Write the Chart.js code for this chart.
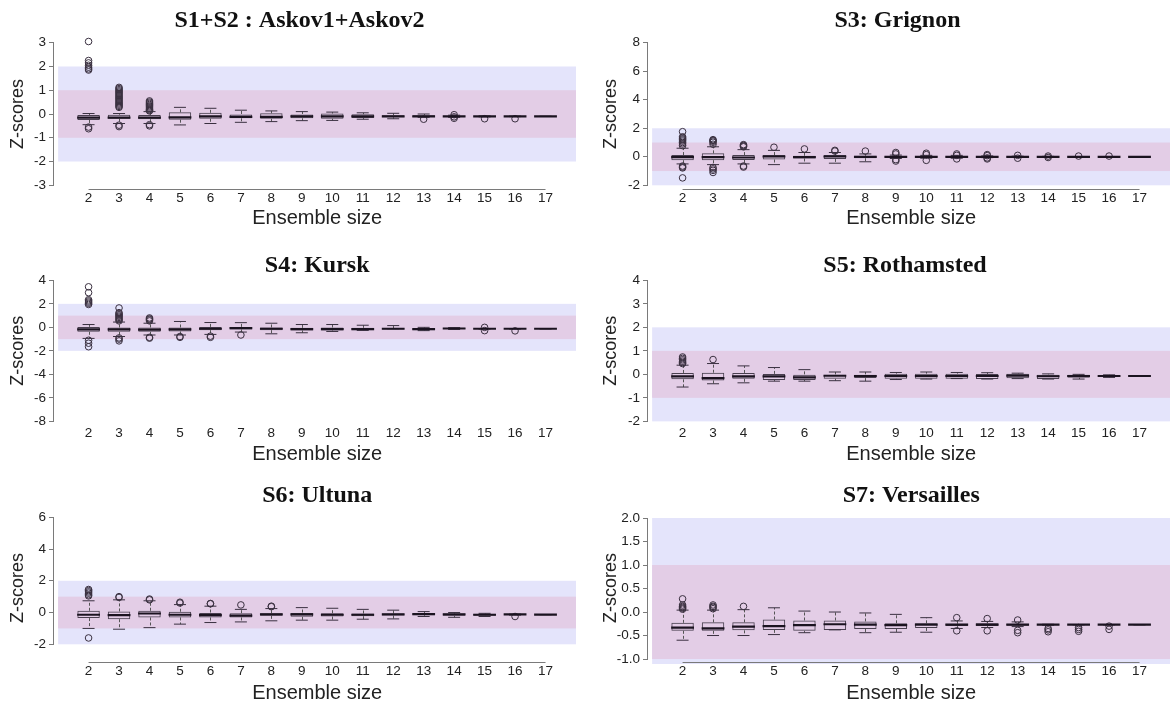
<!DOCTYPE html>
<html>
<head>
<meta charset="utf-8">
<title>z-scores by ensemble size</title>
<script src="https://cdn.jsdelivr.net/npm/chart.js@4.4.1/dist/chart.umd.min.js"></script>
<style>
  html, body { margin: 0; padding: 0; background: #fff; }
  body { position: relative; width: 1175px; height: 705px; overflow: hidden; }
  canvas { position: absolute; }
</style>
</head>
<body>
<script>
// ensemble sizes (x categories)
const sizes = [2, 3, 4, 5, 6, 7, 8, 9, 10, 11, 12, 13, 14, 15, 16, 17];

// reference bands (z-score limits)
const outerBand = [-2, 2];
const innerBand = [-1, 1];

// S1+S2 : Askov1+Askov2
const askovTicks = [-3, -2, -1, 0, 1, 2, 3];
const askovQ3 = [-0.04, -0.03, -0.04, 0.07, 0.05, 0.00, 0.03, 0.00, 0.02, -0.01, -0.05, -0.05, -0.07, -0.09, -0.09, -0.10];
const askovMed = [-0.15, -0.15, -0.15, -0.14, -0.10, -0.12, -0.12, -0.10, -0.10, -0.10, -0.10, -0.10, -0.10, -0.10, -0.10, -0.10];
const askovQ1 = [-0.25, -0.20, -0.22, -0.24, -0.20, -0.18, -0.20, -0.18, -0.20, -0.17, -0.14, -0.13, -0.12, -0.11, -0.11, -0.10];
const askovHigh = [0.02, 0.02, 0.10, 0.28, 0.24, 0.16, 0.13, 0.10, 0.08, 0.05, 0.03, 0.00, -0.05, -0.08, -0.09, -0.10];
const askovLow = [-0.45, -0.40, -0.40, -0.46, -0.40, -0.35, -0.32, -0.28, -0.27, -0.22, -0.20, -0.14, -0.14, -0.12, -0.11, -0.10];
const askovOut = [
  [3.05, 2.25, 2.15, 2.05, 1.97, 1.9, 1.85, -0.55, -0.62],
  [1.12, 1.07, 1.02, 0.97, 0.92, 0.87, 0.82, 0.77, 0.72, 0.67, 0.62, 0.57, 0.52, 0.47, 0.42, 0.37, 0.32, 0.28, -0.47, -0.53],
  [0.55, 0.5, 0.45, 0.4, 0.35, 0.3, 0.25, 0.2, 0.16, 0.13, -0.45, -0.5],
  [], [], [], [], [], [], [], [],
  [-0.22], [-0.03, -0.12, -0.18], [-0.2], [-0.2], []
];

// S3: Grignon
const grignonTicks = [-2, 0, 2, 4, 6, 8];
const grignonQ3 = [0.12, 0.24, 0.12, 0.12, 0.07, 0.12, 0.07, 0.06, 0.05, 0.05, 0.03, 0.02, 0.02, 0.01, 0.01, 0.0];
const grignonMed = [-0.02, -0.02, -0.05, 0.02, -0.02, 0.02, 0.0, 0.0, 0.0, 0.0, 0.0, 0.0, 0.0, 0.0, 0.0, 0.0];
const grignonQ1 = [-0.24, -0.24, -0.22, -0.19, -0.12, -0.15, -0.10, -0.06, -0.05, -0.05, -0.03, -0.02, -0.02, -0.01, -0.01, 0.0];
const grignonHigh = [0.6, 0.7, 0.5, 0.45, 0.3, 0.3, 0.2, 0.12, 0.1, 0.1, 0.06, 0.04, 0.03, 0.02, 0.02, 0.0];
const grignonLow = [-0.5, -0.55, -0.5, -0.55, -0.45, -0.45, -0.35, -0.12, -0.1, -0.1, -0.06, -0.04, -0.03, -0.02, -0.02, 0.0];
const grignonOut = [
  [1.76, 1.4, 1.32, 1.25, 1.18, 1.1, 1.0, 0.9, 0.78, -0.65, -0.72, -0.78, -1.48],
  [1.2, 1.15, 1.1, 1.02, 0.88, -0.75, -0.85, -0.95, -1.1],
  [0.85, 0.8, 0.75, 0.7, -0.65, -0.72],
  [0.67], [0.55], [0.45, 0.4], [0.4],
  [0.3, 0.2, -0.2, -0.3], [0.25, 0.15, -0.25], [0.2, 0.1, -0.15], [0.15, 0.08, -0.08, -0.15],
  [0.1, -0.1], [0.05, -0.05], [0.05], [0.05], []
];

// S4: Kursk
const kurskTicks = [-8, -6, -4, -2, 0, 2, 4];
const kurskQ3 = [0.04, -0.01, -0.01, -0.01, 0.04, 0.04, -0.01, -0.04, -0.01, -0.04, -0.07, -0.07, -0.04, -0.10, -0.10, -0.12];
const kurskMed = [-0.18, -0.18, -0.20, -0.18, -0.12, -0.07, -0.12, -0.15, -0.15, -0.15, -0.12, -0.15, -0.10, -0.12, -0.12, -0.12];
const kurskQ1 = [-0.38, -0.38, -0.38, -0.35, -0.24, -0.18, -0.24, -0.27, -0.27, -0.24, -0.18, -0.24, -0.15, -0.14, -0.14, -0.12];
const kurskHigh = [0.24, 0.45, 0.35, 0.5, 0.41, 0.4, 0.35, 0.24, 0.24, 0.18, 0.15, 0.0, -0.02, -0.10, -0.10, -0.12];
const kurskLow = [-0.94, -0.78, -0.65, -0.65, -0.6, -0.4, -0.55, -0.46, -0.35, -0.26, -0.12, -0.28, -0.18, -0.14, -0.14, -0.12];
const kurskOut = [
  [3.45, 2.95, 2.35, 2.25, 2.15, 2.05, 1.95, -1.1, -1.35, -1.65],
  [1.65, 1.25, 1.15, 1.05, 0.95, 0.85, 0.75, 0.65, 0.55, -0.9, -1.0, -1.15],
  [0.8, 0.72, 0.65, 0.55, -0.85, -0.92],
  [-0.78, -0.85], [-0.75, -0.85], [-0.65],
  [], [], [], [], [], [], [],
  [0.0, -0.28], [-0.3], []
];

// S5: Rothamsted
const rothTicks = [-2, -1, 0, 1, 2, 3, 4];
const rothQ3 = [0.06, 0.07, 0.06, 0.02, 0.0, 0.0, 0.0, 0.03, 0.03, 0.03, 0.01, 0.03, 0.0, -0.02, -0.04, -0.07];
const rothMed = [-0.09, -0.16, -0.09, -0.09, -0.13, -0.06, -0.07, -0.07, -0.07, -0.07, -0.07, -0.05, -0.08, -0.07, -0.07, -0.07];
const rothQ1 = [-0.21, -0.26, -0.19, -0.24, -0.24, -0.19, -0.16, -0.19, -0.19, -0.19, -0.20, -0.17, -0.20, -0.14, -0.10, -0.07];
const rothHigh = [0.39, 0.46, 0.36, 0.29, 0.2, 0.1, 0.1, 0.08, 0.1, 0.08, 0.07, 0.05, 0.02, 0.0, -0.02, -0.07];
const rothLow = [-0.54, -0.4, -0.36, -0.29, -0.29, -0.27, -0.29, -0.22, -0.2, -0.18, -0.2, -0.18, -0.2, -0.2, -0.13, -0.07];
const rothOut = [
  [0.74, 0.68, 0.62, 0.56, 0.5, 0.46],
  [0.63],
  [], [], [], [], [], [], [], [], [], [], [], [], [], []
];

// S6: Ultuna
const ultunaTicks = [-2, 0, 2, 4, 6];
const ultunaQ3 = [0.11, 0.07, 0.11, 0.05, 0.0, -0.04, -0.04, 0.0, -0.04, -0.06, -0.06, -0.06, -0.06, -0.08, -0.10, -0.13];
const ultunaMed = [-0.14, -0.16, -0.06, -0.14, -0.16, -0.19, -0.12, -0.12, -0.14, -0.14, -0.12, -0.10, -0.12, -0.14, -0.12, -0.13];
const ultunaQ1 = [-0.35, -0.42, -0.31, -0.31, -0.31, -0.31, -0.21, -0.27, -0.25, -0.23, -0.19, -0.17, -0.21, -0.21, -0.14, -0.13];
const ultunaHigh = [0.74, 0.8, 0.74, 0.5, 0.4, 0.2, 0.25, 0.31, 0.27, 0.2, 0.15, 0.06, 0.0, -0.05, -0.10, -0.13];
const ultunaLow = [-1.0, -1.05, -0.95, -0.73, -0.63, -0.59, -0.52, -0.48, -0.48, -0.42, -0.4, -0.25, -0.3, -0.25, -0.16, -0.13];
const ultunaOut = [
  [1.45, 1.38, 1.3, 1.22, 1.12, 1.05, -1.6],
  [1.0, 0.95], [0.85, 0.8], [0.65, 0.6], [0.57, 0.55], [0.48], [0.4, 0.37],
  [], [], [], [], [], [], [],
  [-0.25], []
];

// S7: Versailles
const versTicks = [-1, -0.5, 0, 0.5, 1, 1.5, 2];
const versQ3 = [-0.23, -0.22, -0.22, -0.16, -0.18, -0.18, -0.20, -0.24, -0.24, -0.25, -0.24, -0.25, -0.26, -0.27, -0.27, -0.27];
const versMed = [-0.33, -0.35, -0.31, -0.30, -0.28, -0.26, -0.27, -0.28, -0.27, -0.27, -0.27, -0.27, -0.27, -0.27, -0.27, -0.27];
const versQ1 = [-0.40, -0.40, -0.39, -0.38, -0.40, -0.38, -0.36, -0.36, -0.34, -0.30, -0.30, -0.29, -0.28, -0.27, -0.27, -0.27];
const versHigh = [0.04, 0.04, 0.05, 0.09, 0.02, 0.0, -0.02, -0.05, -0.12, -0.19, -0.20, -0.21, -0.26, -0.27, -0.27, -0.27];
const versLow = [-0.6, -0.5, -0.5, -0.48, -0.44, -0.38, -0.44, -0.43, -0.43, -0.35, -0.33, -0.31, -0.28, -0.27, -0.27, -0.27];
const versOut = [
  [0.28, 0.15, 0.12, 0.1, 0.08, 0.06],
  [0.15, 0.12, 0.1, 0.07],
  [0.12],
  [], [], [], [], [], [],
  [-0.12, -0.4], [-0.14, -0.4], [-0.17, -0.39, -0.44],
  [-0.35, -0.38, -0.42], [-0.33, -0.37, -0.41], [-0.3, -0.37], []
];

// page layout (pixels)
const rows = [
  {top: 0, height: 232, plotTop: 37, plotBottom: 191, titleY: 20.5, tickY: 198.5, xTitleY: 218},
  {top: 236, height: 236, plotTop: 274.7, plotBottom: 427, titleY: 265.6, tickY: 433.5, xTitleY: 454.5},
  {top: 474, height: 231, plotTop: 512, plotBottom: 664, titleY: 495.5, tickY: 671.7, xTitleY: 693}
];
const cols = [
  {left: 0, width: 594, plotLeft: 54, plotRight: 591, yTitleX: 18},
  {left: 594, width: 594, plotLeft: 648, plotRight: 1185, yTitleX: 611}
];

const X_MIN = 0.865;
const X_MAX = 18.145;

const SANS = "'Liberation Sans', Arial, sans-serif";
const TICK_FONT = {family: SANS, size: 13.5};
const XTITLE_FONT = {family: SANS, size: 20};
const YTITLE_FONT = {family: SANS, size: 18};
const TITLE_FONT = {family: "'Liberation Serif', 'Times New Roman', serif", size: 24, weight: "bold"};
const Y_TICK_LEN = 5;
const Y_TICK_PAD = 3;

const panels = [
  {title: "S1+S2 : Askov1+Askov2", row: 0, col: 0, titleX: 299.5, yMin: -3.24, yMax: 3.24, xLine: true,
   ticks: askovTicks, q1: askovQ1, med: askovMed, q3: askovQ3, low: askovLow, high: askovHigh, out: askovOut},
  {title: "S3: Grignon", row: 0, col: 1, titleX: 897.5, yMin: -2.4, yMax: 8.4, xLine: true,
   ticks: grignonTicks, q1: grignonQ1, med: grignonMed, q3: grignonQ3, low: grignonLow, high: grignonHigh, out: grignonOut},
  {title: "S4: Kursk", row: 1, col: 0, titleX: 320, yMin: -8.48, yMax: 4.48, xLine: false,
   ticks: kurskTicks, q1: kurskQ1, med: kurskMed, q3: kurskQ3, low: kurskLow, high: kurskHigh, out: kurskOut},
  {title: "S5: Rothamsted", row: 1, col: 1, titleX: 905, yMin: -2.24, yMax: 4.24, xLine: false,
   ticks: rothTicks, q1: rothQ1, med: rothMed, q3: rothQ3, low: rothLow, high: rothHigh, out: rothOut},
  {title: "S6: Ultuna", row: 2, col: 0, titleX: 320, yMin: -3.24, yMax: 6.33, xLine: true,
   ticks: ultunaTicks, q1: ultunaQ1, med: ultunaMed, q3: ultunaQ3, low: ultunaLow, high: ultunaHigh, out: ultunaOut},
  {title: "S7: Versailles", row: 2, col: 1, titleX: 911.7, yMin: -1.106, yMax: 2.128, xLine: true, decimals: 1,
   ticks: versTicks, q1: versQ1, med: versMed, q3: versQ3, low: versLow, high: versHigh, out: versOut}
];

Chart.defaults.font.family = SANS;

const measure = document.createElement("canvas").getContext("2d");
measure.font = TICK_FONT.size + "px " + SANS;

function tickText(p, v) {
  return p.decimals ? Number(v).toFixed(p.decimals) : String(v);
}

function makePanel(p) {
  const row = rows[p.row];
  const col = cols[p.col];

  const canvas = document.createElement("canvas");
  canvas.width = col.width;
  canvas.height = row.height;
  canvas.style.left = col.left + "px";
  canvas.style.top = row.top + "px";
  document.body.appendChild(canvas);

  // work out paddings so the plot area lands where the reference has it
  const plotLeft = col.plotLeft - col.left;
  const plotRight = col.plotRight - col.left;
  const plotTop = row.plotTop - row.top;
  const plotBottom = row.plotBottom - row.top;

  // y labels are clipped to the scale box, so keep room for them;
  // if centring the title over the whole canvas would eat that room,
  // centre it over the plot area instead
  const labelRoom = Math.max(...p.ticks.map(v => measure.measureText(tickText(p, v)).width)) + Y_TICK_LEN + Y_TICK_PAD + 2;
  let padLeft = 2 * (p.titleX - col.left) - plotRight;
  let titleFull = true;
  if (padLeft < 0 || plotLeft - padLeft < labelRoom) {
    padLeft = 0;
    titleFull = false;
  }
  const padRight = col.width - plotRight;
  const titleLH = TITLE_FONT.size * 1.2;
  const titlePadTop = row.titleY - row.top - titleLH / 2;
  const titlePadBottom = plotTop - titleLH - titlePadTop;
  const yScaleWidth = plotLeft - padLeft;
  const yTitlePad = col.yTitleX - col.left - padLeft - YTITLE_FONT.size * 0.6;
  const xScaleHeight = row.height - plotBottom;
  const xTickPad = row.tickY - row.plotBottom - TICK_FONT.size * 0.6;
  const xTitlePad = row.height - (row.xTitleY - row.top) - XTITLE_FONT.size * 0.6;

  const boxes = sizes.map((s, i) => ({x: s, y: [p.q1[i], p.q3[i]]}));
  const medians = sizes.map((s, i) => ({x: s, y: p.med[i]}));
  const caps = sizes.flatMap((s, i) => [{x: s, y: p.high[i]}, {x: s, y: p.low[i]}]);
  const outliers = [];
  p.out.forEach((vals, i) => vals.forEach(v => outliers.push({x: sizes[i], y: v})));

  // bands, dashed whiskers and R-style axis lines
  const decor = {
    id: "decor",
    beforeDatasetsDraw(chart) {
      const {ctx, chartArea: a, scales: {x, y}} = chart;
      ctx.save();
      ctx.beginPath();
      ctx.rect(a.left, a.top, a.width, a.height);
      ctx.clip();
      const xl = x.getPixelForValue(1);
      const xr = x.getPixelForValue(18);
      [[outerBand, "#e4e4fb"], [innerBand, "#e3cde6"]].forEach(([band, color]) => {
        const top = y.getPixelForValue(band[1]);
        const bottom = y.getPixelForValue(band[0]);
        ctx.fillStyle = color;
        ctx.fillRect(xl, top, xr - xl, bottom - top);
      });
      ctx.restore();

      ctx.save();
      ctx.strokeStyle = "#555";
      ctx.lineWidth = 1;
      ctx.setLineDash([3, 2]);
      sizes.forEach((s, i) => {
        const px = Math.round(x.getPixelForValue(s)) + 0.5;
        ctx.beginPath();
        if (p.high[i] > p.q3[i]) {
          ctx.moveTo(px, y.getPixelForValue(p.q3[i]));
          ctx.lineTo(px, y.getPixelForValue(p.high[i]));
        }
        if (p.low[i] < p.q1[i]) {
          ctx.moveTo(px, y.getPixelForValue(p.q1[i]));
          ctx.lineTo(px, y.getPixelForValue(p.low[i]));
        }
        ctx.stroke();
      });
      ctx.restore();
    },
    afterDatasetsDraw(chart) {
      const {ctx, chartArea: a, scales: {x, y}} = chart;
      ctx.save();
      ctx.strokeStyle = "#7a7a7a";
      ctx.lineWidth = 1;
      ctx.beginPath();
      const ax = Math.round(a.left) - 0.5;
      ctx.moveTo(ax, y.getPixelForValue(p.ticks[0]));
      ctx.lineTo(ax, y.getPixelForValue(p.ticks[p.ticks.length - 1]));
      if (p.xLine) {
        const ay = Math.round(a.bottom) - 1.5;
        ctx.moveTo(x.getPixelForValue(sizes[0]), ay);
        ctx.lineTo(x.getPixelForValue(sizes[sizes.length - 1]), ay);
      }
      ctx.stroke();
      ctx.restore();
    }
  };

  new Chart(canvas, {
    type: "bar",
    data: {
      datasets: [
        {
          type: "scatter",
          data: medians,
          pointStyle: "line",
          pointRadius: 11.4,
          pointBorderWidth: 2.2,
          pointBorderColor: "#1b1320",
          order: 1
        },
        {
          type: "scatter",
          data: outliers,
          pointStyle: "circle",
          pointRadius: 3.3,
          pointBorderWidth: 1,
          pointBorderColor: "#3a3040",
          pointBackgroundColor: "rgba(0,0,0,0)",
          order: 2
        },
        {
          type: "scatter",
          data: caps,
          pointStyle: "line",
          pointRadius: 6,
          pointBorderWidth: 1,
          pointBorderColor: "#3a3040",
          order: 3
        },
        {
          type: "bar",
          data: boxes,
          backgroundColor: "rgba(0,0,0,0)",
          borderColor: "#4a4050",
          borderWidth: 1,
          borderSkipped: false,
          barPercentage: 0.92,
          categoryPercentage: 0.8,
          order: 4
        }
      ]
    },
    options: {
      responsive: false,
      animation: false,
      events: [],
      layout: {padding: {left: padLeft, right: padRight, top: 0, bottom: 0}},
      plugins: {
        legend: {display: false},
        tooltip: {enabled: false},
        title: {
          display: true,
          text: p.title,
          color: "#111",
          font: TITLE_FONT,
          fullSize: titleFull,
          padding: {top: titlePadTop, bottom: titlePadBottom}
        }
      },
      scales: {
        x: {
          type: "linear",
          min: X_MIN,
          max: X_MAX,
          offset: false,
          afterBuildTicks: (axis) => { axis.ticks = sizes.map(v => ({value: v})); },
          afterFit: (axis) => { axis.height = xScaleHeight; },
          border: {display: false},
          grid: {display: false, drawTicks: false, offset: false},
          ticks: {
            padding: xTickPad,
            color: "#222",
            font: TICK_FONT,
            maxRotation: 0,
            autoSkip: false,
            callback: (v) => String(v)
          },
          title: {
            display: true,
            text: "Ensemble size",
            color: "#222",
            font: XTITLE_FONT,
            padding: {top: 0, bottom: xTitlePad}
          }
        },
        y: {
          type: "linear",
          min: p.yMin,
          max: p.yMax,
          afterBuildTicks: (axis) => { axis.ticks = p.ticks.map(v => ({value: v})); },
          afterFit: (axis) => { axis.width = yScaleWidth; },
          border: {display: false},
          grid: {display: true, drawOnChartArea: false, drawTicks: true, tickLength: Y_TICK_LEN, color: "#7a7a7a"},
          ticks: {
            padding: Y_TICK_PAD,
            color: "#222",
            font: TICK_FONT,
            callback: (v) => tickText(p, v)
          },
          title: {
            display: true,
            text: "Z-scores",
            color: "#222",
            font: YTITLE_FONT,
            padding: {top: yTitlePad, bottom: 0}
          }
        }
      }
    },
    plugins: [decor]
  });
}

panels.forEach(makePanel);
</script>
</body>
</html>
